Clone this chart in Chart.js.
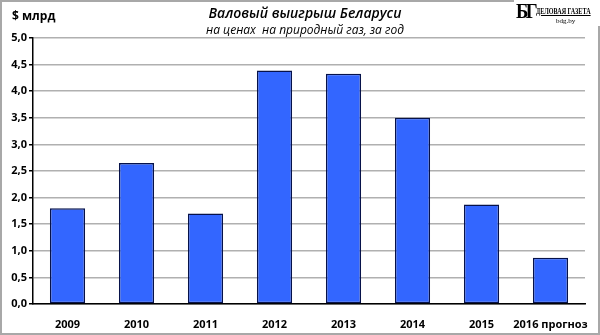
<!DOCTYPE html>
<html>
<head>
<meta charset="utf-8">
<script src="https://cdn.jsdelivr.net/npm/chart.js@4"></script>
<style>
  html, body { margin:0; padding:0; background:#fff; }
  #wrap { position:relative; width:600px; height:335px; overflow:hidden; }
  #c { position:absolute; left:0; top:0; }
  #frame { position:absolute; left:0; top:0; width:596px; height:331px; border:2px solid #a8a8a8; pointer-events:none; }
  .t { position:absolute; white-space:nowrap; color:#000; }
  #unit { left:12px; top:7px; font:bold 12px "Open Sans", sans-serif; }
  #title { left:0; width:610px; text-align:center; top:3px; font:italic 600 14px "Open Sans", sans-serif; }
  #sub { left:0; width:610px; text-align:center; top:21px; font:italic 12px "Open Sans", sans-serif; }
  #logo { left:514px; top:0px; width:86px; height:26px; background:#fff; }
  #bg { position:absolute; left:2px; top:-2px; font:bold 22px "Liberation Serif", serif; letter-spacing:-3px; transform:scaleX(0.85); transform-origin:left top; }
  #dg { position:absolute; left:22px; top:6px; font:bold 9px "Liberation Serif", serif; text-decoration:underline; transform:scaleX(0.68); transform-origin:left top; }
  #bdg { position:absolute; left:42px; top:17px; font:7px "Liberation Serif", serif; }
</style>
</head>
<body>
<div id="wrap">
  <canvas id="c" width="600" height="335"></canvas>
  <div id="frame"></div>
  <div class="t" id="unit">$ млрд</div>
  <div class="t" id="title">Валовый выигрыш Беларуси</div>
  <div class="t" id="sub">на ценах&nbsp; на природный газ, за год</div>
  <div class="t" id="logo"><span id="bg">БГ</span><span id="dg">ДЕЛОВАЯ ГАЗЕТА</span><span id="bdg">bdg.by</span></div>
</div>
<script>
const categories = ['2009', '2010', '2011', '2012', '2013', '2014', '2015', '2016 прогноз'];
const values = [1.8, 2.65, 1.7, 4.39, 4.33, 3.5, 1.87, 0.87];
const yMin = 0, yMax = 5, yStep = 0.5;

const tickFont = { family: '"Open Sans", sans-serif', size: 11, weight: 'bold' };

new Chart(document.getElementById('c'), {
  type: 'bar',
  data: {
    labels: categories,
    datasets: [{
      data: values,
      backgroundColor: '#3366ff',
      borderColor: '#06124a',
      borderWidth: 1.5,
      borderSkipped: false,
      barPercentage: 0.51,
      categoryPercentage: 1.0
    }]
  },
  options: {
    responsive: false,
    animation: false,
    devicePixelRatio: 1,
    layout: { padding: { top: 38, right: 15, left: 0, bottom: 0 } },
    plugins: { legend: { display: false }, tooltip: { enabled: false }, title: { display: false } },
    scales: {
      x: {
        grid: { display: false },
        border: { color: '#000', width: 1.5 },
        ticks: { color: '#000', font: tickFont, padding: 6, maxRotation: 0, autoSkip: false },
        afterFit: s => { s.height = 31; }
      },
      y: {
        min: yMin, max: yMax,
        grid: { color: '#b0b0b0', lineWidth: 1.5, tickColor: '#000', tickLength: 4, drawTicks: true },
        border: { color: '#000', width: 1.5 },
        ticks: {
          stepSize: yStep, color: '#000', font: tickFont, padding: 2,
          callback: v => v.toFixed(1).replace('.', ',')
        },
        afterFit: s => { s.width = 33; }
      }
    }
  }
});
</script>
</body>
</html>
